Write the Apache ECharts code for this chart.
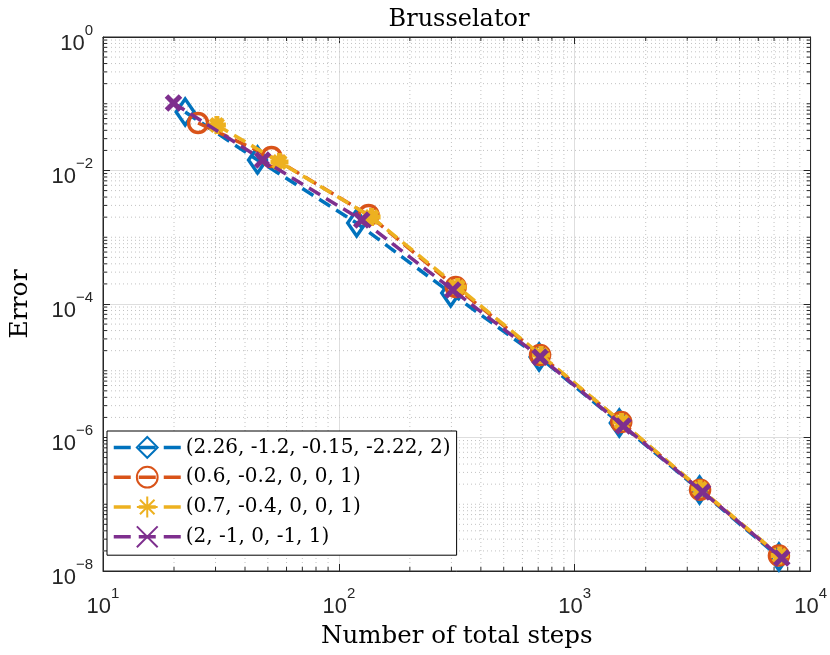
<!DOCTYPE html>
<html>
<head>
<meta charset="utf-8">
<script src="https://cdn.jsdelivr.net/npm/echarts@6/dist/echarts.min.js"></script>
<style>html,body{margin:0;padding:0;background:#fff}#c{width:830px;height:655px}</style>
</head>
<body>
<div id="c"></div>
<script>
// ---- data ----
const seriesNames = ['(2.26, -1.2, -0.15, -2.22, 2)', '(0.6, -0.2, 0, 0, 1)', '(0.7, -0.4, 0, 0, 1)', '(2, -1, 0, -1, 1)'];
const steps1 = [22.3, 45.2, 119, 298, 706, 1545, 3383, 7340];
const err1   = [0.0752, 0.01436, 1.63e-3, 1.46e-4, 1.61e-5, 1.65e-6, 1.63e-7, 1.62e-8];
const steps2 = [25.3, 51.8, 133.6, 313, 713, 1575, 3400, 7340];
const err2   = [0.0515, 0.0159, 2.15e-3, 1.80e-4, 1.72e-5, 1.70e-6, 1.65e-7, 1.70e-8];
const steps3 = [30.4, 56, 137.6, 319, 720, 1580, 3400, 7400];
const err3   = [0.048, 0.0134, 2.01e-3, 1.80e-4, 1.72e-5, 1.70e-6, 1.70e-7, 1.70e-8];
const steps4 = [19.9, 47.5, 125, 304, 713, 1607, 3484, 7551];
const err4   = [0.1026, 0.0144, 1.81e-3, 1.62e-4, 1.60e-5, 1.49e-6, 1.53e-7, 1.57e-8];
// minor ticks: 2..9 x each decade (x), and 2..9 x each decade plus odd decades (y)
const xMinor = [];
for (const d of [10, 100, 1000]) for (let k = 2; k <= 9; k++) xMinor.push(k * d);
const yMinor = [];
for (let e = -8; e < 0; e++) for (let k = 1; k <= 9; k++) {
  if (k === 1 && e % 2 === 0) continue;
  yMinor.push(k * Math.pow(10, e));
}
const colors = ['#0072BD', '#D95319', '#EDB120', '#7E2F8E'];

const sans = 'Liberation Sans';
const serif = 'DejaVu Serif';
const axisCol = '#262626';

function pow10Label(v) {
  const e = Math.round(Math.log10(v));
  return '{b|10}{s|' + String(e).replace('-', '\u2212') + '}';
}
const rich = {
  b: {fontFamily: sans, fontSize: 22, color: axisCol, padding: [13, 0, 0, 0]},
  s: {fontFamily: sans, fontSize: 15, color: axisCol, padding: [0, 0, 13, 0]}
};

function zip(a, b) { return a.map((v, i) => [v, b[i]]); }

const asterisk = 'path://M10,0L10,20M0,10L20,10M3,3L17,17M3,17L17,3';
const xmark = 'path://M0,0L20,20M0,20L20,0';

function lineSeries(i, data, symbol, size, bw) {
  return {
    name: seriesNames[i], type: 'line', data: data,
    symbol: symbol, symbolSize: size, symbolKeepAspect: true, showSymbol: true,
    lineStyle: {color: colors[i], width: 3.5, type: [13, 7]},
    itemStyle: {color: 'rgba(255,255,255,0)', borderColor: colors[i], borderWidth: bw},
    emphasis: {disabled: true}, z: 3 + i, animation: false
  };
}

const chart = echarts.init(document.getElementById('c'));
chart.setOption({
  animation: false,
  title: {text: 'Brusselator', left: 454, top: 3, textAlign: 'center',
    textStyle: {fontFamily: serif, fontSize: 24, fontWeight: 'normal', color: '#000'}},
  grid: {left: 97, right: 19, top: 37, bottom: 84, show: true, borderColor: axisCol, borderWidth: 1, backgroundColor: 'transparent'},
  legend: {
    orient: 'vertical', left: 107, top: 431, padding: [5, 6, 7, 5], itemGap: 7,
    itemWidth: 67, itemHeight: 26, backgroundColor: '#fff', borderColor: '#000', borderWidth: 1,
    lineStyle: {width: 3.5, type: [17, 8, 17, 8]},
    textStyle: {fontFamily: serif, fontSize: 20, color: '#000'},
    data: seriesNames
  },
  xAxis: [{
    type: 'log', logBase: 10, min: 10, max: 10000,
    name: 'Number of total steps', nameLocation: 'middle', nameGap: 53,
    nameTextStyle: {fontFamily: serif, fontSize: 24.5, color: '#000'},
    axisLine: {lineStyle: {color: axisCol}},
    axisTick: {inside: true, length: 7, lineStyle: {color: axisCol}},
    axisLabel: {formatter: pow10Label, rich: rich, margin: 12},
    splitLine: {show: true, lineStyle: {color: '#dedede', width: 1}}
  }, {
    type: 'log', logBase: 10, min: 10, max: 10000, position: 'top',
    axisLine: {lineStyle: {color: axisCol}},
    axisTick: {inside: true, length: 7, lineStyle: {color: axisCol}},
    axisLabel: {show: false}, splitLine: {show: false}
  }],
  yAxis: [{
    type: 'log', logBase: 10, min: 1e-8, max: 1, interval: 2,
    name: 'Error', nameLocation: 'middle', nameGap: 70, nameRotate: 90,
    nameTextStyle: {fontFamily: serif, fontSize: 25, color: '#000'},
    axisLine: {lineStyle: {color: axisCol}},
    axisTick: {inside: true, length: 7, lineStyle: {color: axisCol}},
    axisLabel: {formatter: pow10Label, rich: rich, margin: 10},
    splitLine: {show: true, lineStyle: {color: '#dedede', width: 1}}
  }, {
    type: 'log', logBase: 10, min: 1e-8, max: 1, interval: 2, position: 'right',
    axisLine: {lineStyle: {color: axisCol}},
    axisTick: {inside: true, length: 7, lineStyle: {color: axisCol}},
    axisLabel: {show: false}, splitLine: {show: false}
  }],
  series: [
    {
      type: 'custom', silent: true, z: 1, animation: false,
      data: xMinor.map(v => [v, 1e-8]),
      renderItem: function (params, api) {
        const v = api.value(0);
        const b = api.coord([v, 1e-8]), t = api.coord([v, 1]);
        return {type: 'group', children: [
          {type: 'line', shape: {x1: b[0], y1: b[1], x2: t[0], y2: t[1]}, style: {stroke: '#c2c2c2', lineWidth: 1, lineDash: [1, 3]}},
          {type: 'line', shape: {x1: b[0], y1: b[1], x2: b[0], y2: b[1] - 4}, style: {stroke: axisCol, lineWidth: 1}},
          {type: 'line', shape: {x1: t[0], y1: t[1], x2: t[0], y2: t[1] + 4}, style: {stroke: axisCol, lineWidth: 1}}
        ]};
      }
    },
    {
      type: 'custom', silent: true, z: 1, animation: false,
      data: yMinor.map(v => [10, v]),
      renderItem: function (params, api) {
        const v = api.value(1);
        const l = api.coord([10, v]), r = api.coord([10000, v]);
        return {type: 'group', children: [
          {type: 'line', shape: {x1: l[0], y1: l[1], x2: r[0], y2: r[1]}, style: {stroke: '#c2c2c2', lineWidth: 1, lineDash: [1, 3]}},
          {type: 'line', shape: {x1: l[0], y1: l[1], x2: l[0] + 4, y2: l[1]}, style: {stroke: axisCol, lineWidth: 1}},
          {type: 'line', shape: {x1: r[0], y1: r[1], x2: r[0] - 4, y2: r[1]}, style: {stroke: axisCol, lineWidth: 1}}
        ]};
      }
    },
    lineSeries(0, zip(steps1, err1), 'diamond', [18, 26], 3.5),
    lineSeries(1, zip(steps2, err2), 'circle', 19, 3.5),
    lineSeries(2, zip(steps3, err3), asterisk, 18, 5),
    lineSeries(3, zip(steps4, err4), xmark, 14, 5)
  ]
});
</script>
</body>
</html>
